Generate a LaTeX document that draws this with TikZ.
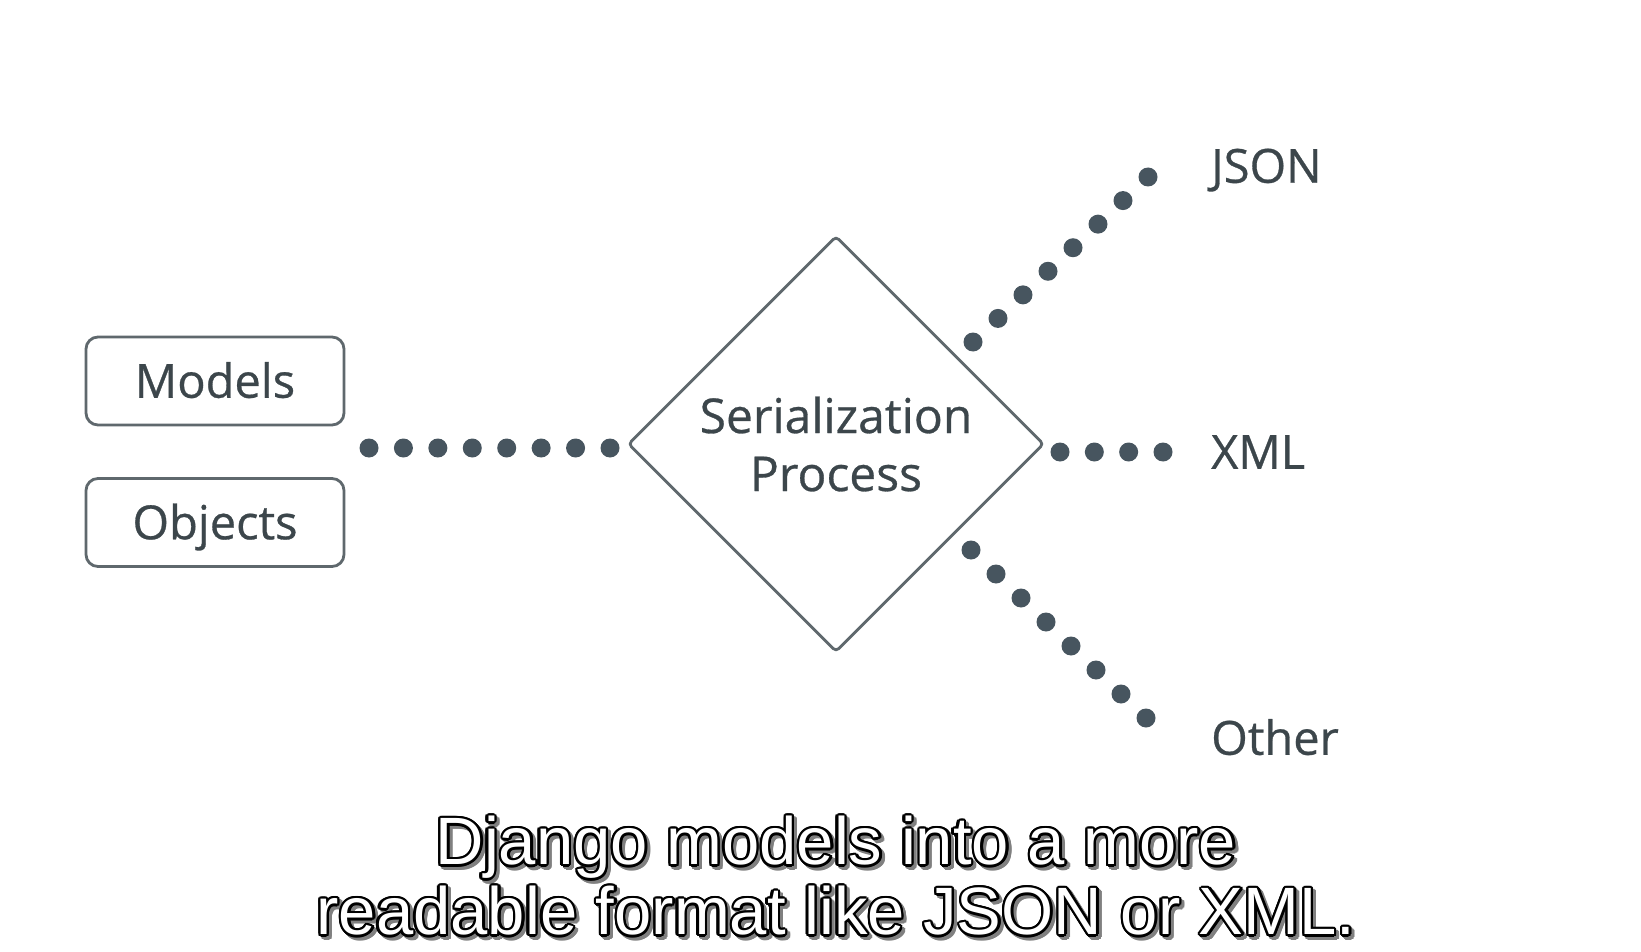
\documentclass[tikz,border=0pt]{standalone}
\usepackage{fontspec}
\setmainfont{Open Sans}[FakeBold=0.6]
\newfontfamily\subfont{Liberation Sans}
\usepackage{contour}
\contourlength{2.4pt}
\usetikzlibrary{shapes.geometric,calc}

\definecolor{dotgray}{HTML}{47555F}
\definecolor{textgray}{HTML}{3C464B}
\definecolor{linegray}{HTML}{5F686D}

\tikzset{
  itembox/.style={draw=linegray, line width=2.8, rounded corners=12, minimum width=258, minimum height=88,
    text=textgray, font=\fontsize{47}{50}\selectfont, text height=33.5, text depth=0, inner sep=0},
  outlabel/.style={text=textgray, font=\fontsize{47}{50}\selectfont, text height=33.5, text depth=0,
    anchor=west, inner sep=0},
  dotfill/.style={fill=dotgray},
  subline/.style={font=\subfont\fontsize{67}{70}\selectfont, align=center, inner sep=0},
}

\begin{document}
\begin{tikzpicture}[x=1pt, y=-1pt]
  \fill[white] (0,0) rectangle (1641,952);
  \useasboundingbox (0,0) rectangle (1641,952);

  % inputs
  \node[itembox] (models) at (215,381) {Models};
  \node[itembox] (objects) at (215,522.5) {Objects};

  % process
  \node[diamond, draw=linegray, line width=2.8, rounded corners=4, minimum width=416, minimum height=416,
        inner sep=0, text=textgray, font=\fontsize{48}{58}\selectfont, align=center] (proc) at (836,444)
        {Serialization\\Process};

  % outputs
  \node[outlabel] (json) at (1211,166) {JSON};
  \node[outlabel] (xml) at (1211,452) {XML};
  \node[outlabel] (other) at (1211,738) {Other};

  % dotted connectors
  \coordinate (in0) at (369,448);   \coordinate (in1) at (610,448);
  \coordinate (js0) at (973,342);   \coordinate (js1) at (1148,177);
  \coordinate (xm0) at (1060,452);  \coordinate (xm1) at (1163,452);
  \coordinate (ot0) at (971,550);   \coordinate (ot1) at (1146,718);

  \foreach \a/\b/\n in {in0/in1/7, js0/js1/7, xm0/xm1/3, ot0/ot1/7}
    \foreach \i in {0,...,\n}
      \fill[dotfill] ($(\a)!\i/\n!(\b)$) circle (9.5);

  % subtitle
  \node[subline, text=gray] (subshadow) at (839,880)
    {\contour{gray}{Django models into a more}\\\contour{gray}{readable format like JSON or XML.}};
  \node[subline, text=white] (subtitle) at (836,877)
    {\contour{black}{Django models into a more}\\\contour{black}{readable format like JSON or XML.}};
\end{tikzpicture}
\end{document}
